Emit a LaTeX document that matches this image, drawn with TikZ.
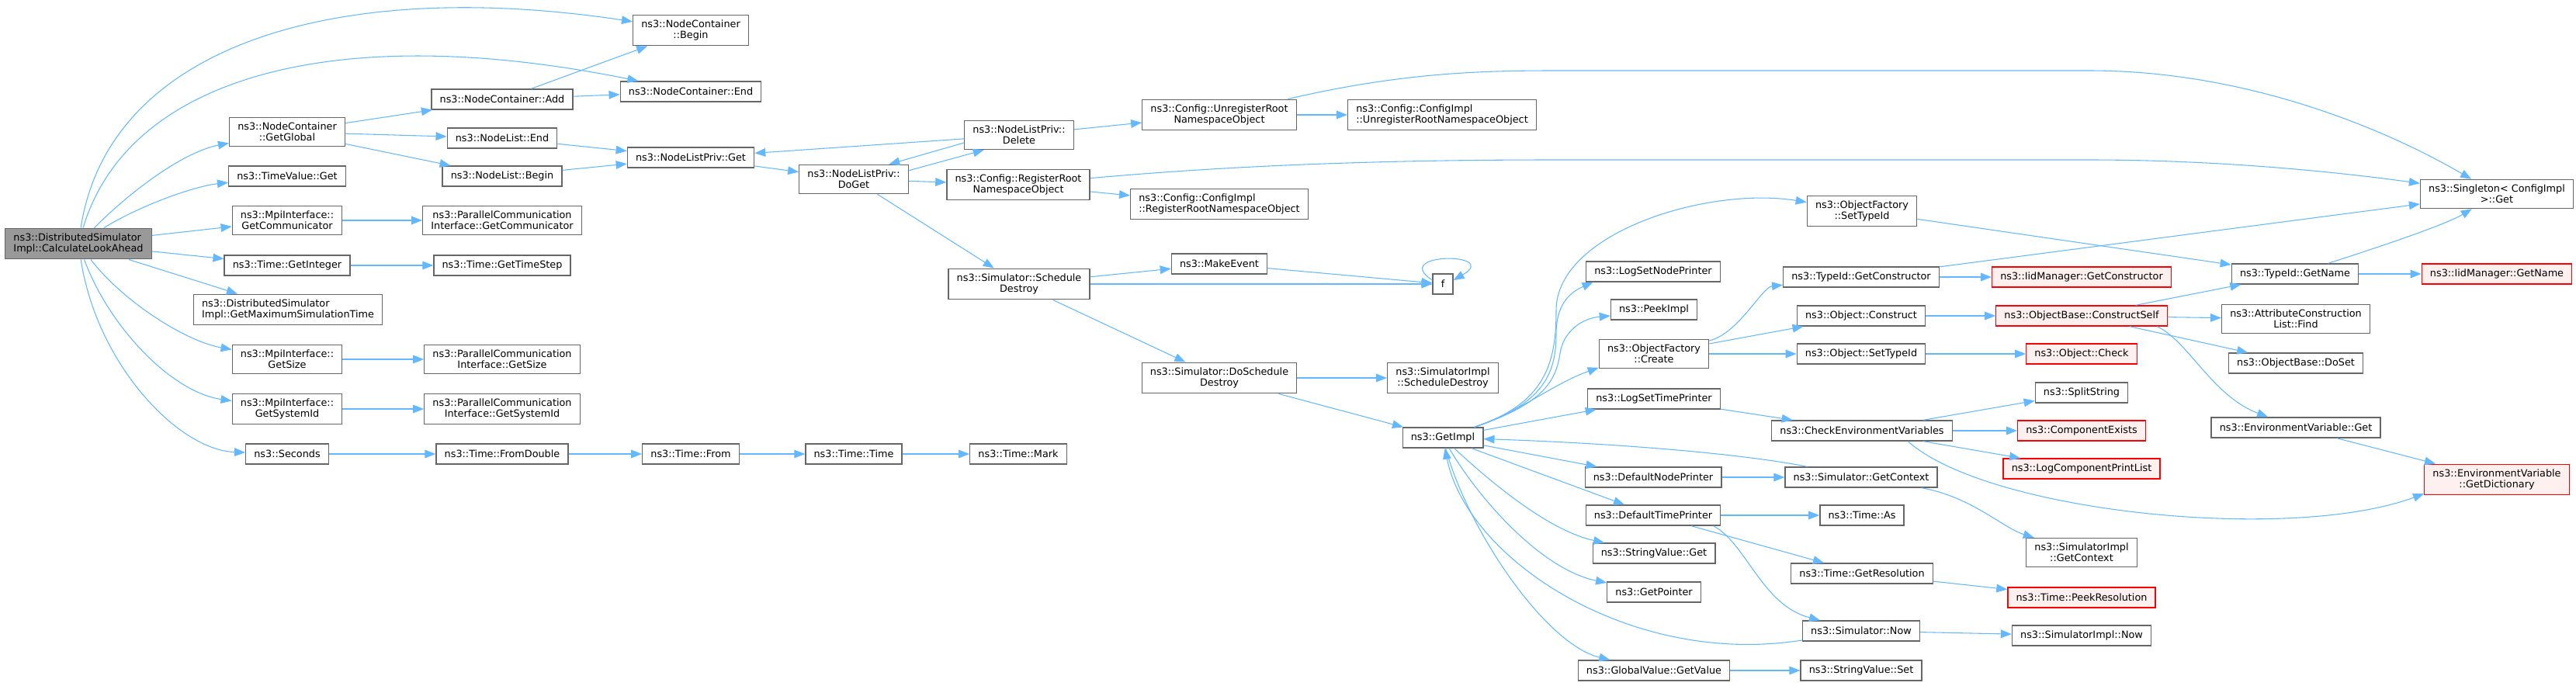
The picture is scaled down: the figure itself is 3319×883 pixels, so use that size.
\documentclass[tikz,border=0pt]{standalone}
\usepackage{fontspec}
\setmainfont{DejaVu Sans}
\usetikzlibrary{arrows.meta}
\definecolor{edgeblue}{HTML}{63B8FF}
\definecolor{boxgrey}{HTML}{666666}
\definecolor{rootfill}{HTML}{999999}
\definecolor{redfill}{HTML}{FFF0F0}
\begin{document}
\begin{tikzpicture}[x=0.75pt,y=-0.75pt,
        fn/.style={draw=boxgrey, line width=1pt, fill=white, inner xsep=8pt, inner ysep=4.8pt,
            minimum height=19.5pt, align=center, font=\fontsize{9.6}{10.8}\selectfont},
        fnleft/.style={fn, align=left},
        rootfn/.style={fn, fill=rootfill, align=left},
        redfn/.style={fn, draw=red, fill=redfill},
        call/.style={draw=edgeblue, line width=0.8pt, -{Triangle[length=10.5pt,width=8pt]}}]
        \useasboundingbox (0,0) rectangle (3319,883);
        % left part
        \path (101,314) node[rootfn] (calc) {ns3::DistributedSimulator\\Impl::CalculateLookAhead};
        \path (890,39) node[fn] (ncbegin) {ns3::NodeContainer\\::Begin};
        \path (890,118) node[fn] (ncend) {ns3::NodeContainer::End};
        \path (647,128) node[fn] (ncadd) {ns3::NodeContainer::Add};
        \path (370,170) node[fn] (getglobal) {ns3::NodeContainer\\::GetGlobal};
        \path (647,178) node[fn] (nlend) {ns3::NodeList::End};
        \path (647,227) node[fn] (nlbegin) {ns3::NodeList::Begin};
        \path (890,203) node[fn] (nlpget) {ns3::NodeListPriv::Get};
        \path (370,227) node[fn] (tvget) {ns3::TimeValue::Get};
        \path (370,284) node[fn] (mpicomm) {ns3::MpiInterface::\\GetCommunicator};
        \path (647,284) node[fn] (pcicomm) {ns3::ParallelCommunication\\Interface::GetCommunicator};
        \path (370,342) node[fn] (getinteger) {ns3::Time::GetInteger};
        \path (647,342) node[fn] (gettimestep) {ns3::Time::GetTimeStep};
        \path (371,399) node[fnleft] (getmaxtime) {ns3::DistributedSimulator\\Impl::GetMaximumSimulationTime};
        \path (370,463) node[fn] (mpisize) {ns3::MpiInterface::\\GetSize};
        \path (647,463) node[fn] (pcisize) {ns3::ParallelCommunication\\Interface::GetSize};
        \path (370,527) node[fn] (mpisysid) {ns3::MpiInterface::\\GetSystemId};
        \path (647,527) node[fn] (pcisysid) {ns3::ParallelCommunication\\Interface::GetSystemId};
        \path (370,585) node[fn] (seconds) {ns3::Seconds};
        \path (647,585) node[fn] (fromdouble) {ns3::Time::FromDouble};
        \path (890,585) node[fn] (timefrom) {ns3::Time::From};
        \path (1100,585) node[fn] (timetime) {ns3::Time::Time};
        \path (1312,585) node[fn] (timemark) {ns3::Time::Mark};
        % middle part
        \path (1313,174) node[fn] (nlpdelete) {ns3::NodeListPriv::\\Delete};
        \path (1100,231) node[fn] (nlpdoget) {ns3::NodeListPriv::\\DoGet};
        \path (1571,148) node[fn] (unregroot) {ns3::Config::UnregisterRoot\\NamespaceObject};
        \path (1858,148) node[fnleft] (cfgunreg) {ns3::Config::ConfigImpl\\::UnregisterRootNamespaceObject};
        \path (1312,238) node[fn] (regroot) {ns3::Config::RegisterRoot\\NamespaceObject};
        \path (1571,263) node[fnleft] (cfgreg) {ns3::Config::ConfigImpl\\::RegisterRootNamespaceObject};
        \path (1313,366) node[fn] (schedestroy) {ns3::Simulator::Schedule\\Destroy};
        \path (1571,340) node[fn] (makeevent) {ns3::MakeEvent};
        \path (1859,366) node[fn] (f) {f};
        \path (1571,487) node[fn] (doschedestroy) {ns3::Simulator::DoSchedule\\Destroy};
        \path (1859,487) node[fn] (implschedestroy) {ns3::SimulatorImpl\\::ScheduleDestroy};
        \path (1859,564) node[fn] (getimpl) {ns3::GetImpl};
        % right part
        \path (3217,250) node[fn] (singleton) {ns3::Singleton< ConfigImpl\\>::Get};
        \path (2399,272) node[fn] (ofsettypeid) {ns3::ObjectFactory\\::SetTypeId};
        \path (2130,350) node[fn] (logsetnode) {ns3::LogSetNodePrinter};
        \path (2131,399) node[fn] (peekimpl) {ns3::PeekImpl};
        \path (2398,357) node[fn] (tidgetctor) {ns3::TypeId::GetConstructor};
        \path (2682,357) node[redfn] (iidgetctor) {ns3::IidManager::GetConstructor};
        \path (2957,353) node[fn] (tidgetname) {ns3::TypeId::GetName};
        \path (3217,353) node[redfn] (iidgetname) {ns3::IidManager::GetName};
        \path (2398,407) node[fn] (objconstruct) {ns3::Object::Construct};
        \path (2682,407) node[redfn] (constructself) {ns3::ObjectBase::ConstructSelf};
        \path (2958,411) node[fn] (attrfind) {ns3::AttributeConstruction\\List::Find};
        \path (2131,456) node[fn] (ofcreate) {ns3::ObjectFactory\\::Create};
        \path (2398,456) node[fn] (objsettypeid) {ns3::Object::SetTypeId};
        \path (2682,456) node[redfn] (objcheck) {ns3::Object::Check};
        \path (2958,468) node[fn] (objdoset) {ns3::ObjectBase::DoSet};
        \path (2131,514) node[fn] (logsettime) {ns3::LogSetTimePrinter};
        \path (2682,506) node[fn] (splitstring) {ns3::SplitString};
        \path (2399,555) node[fn] (checkenv) {ns3::CheckEnvironmentVariables};
        \path (2682,555) node[redfn] (compexists) {ns3::ComponentExists};
        \path (2958,551) node[fn] (envget) {ns3::EnvironmentVariable::Get};
        \path (2682,604) node[redfn] (logcomplist) {ns3::LogComponentPrintList};
        \path (3217,618) node[redfn] (envdict) {ns3::EnvironmentVariable\\::GetDictionary};
        \path (2130,615) node[fn] (defnodeprinter) {ns3::DefaultNodePrinter};
        \path (2398,615) node[fn] (simgetctx) {ns3::Simulator::GetContext};
        \path (2130,664) node[fn] (deftimeprinter) {ns3::DefaultTimePrinter};
        \path (2399,664) node[fn] (timeas) {ns3::Time::As};
        \path (2682,712) node[fn] (implgetctx) {ns3::SimulatorImpl\\::GetContext};
        \path (2131,713) node[fn] (strvalget) {ns3::StringValue::Get};
        \path (2399,739) node[fn] (getres) {ns3::Time::GetResolution};
        \path (2682,770) node[redfn] (peekres) {ns3::Time::PeekResolution};
        \path (2131,763) node[fn] (getpointer) {ns3::GetPointer};
        \path (2398,813) node[fn] (simnow) {ns3::Simulator::Now};
        \path (2682,819) node[fn] (implnow) {ns3::SimulatorImpl::Now};
        \path (2131,864) node[fn] (gvgetvalue) {ns3::GlobalValue::GetValue};
        \path (2398,864) node[fn] (strvalset) {ns3::StringValue::Set};

        \draw[call] (calc) .. controls (140,60) and (430,-30) .. (ncbegin);
        \draw[call] (calc) .. controls (165,100) and (430,25) .. (ncend);
        \draw[call] (calc) .. controls (175,240) and (240,195) .. (getglobal);
        \draw[call] (calc) .. controls (180,265) and (250,240) .. (tvget);
        \draw[call] (calc) -- (mpicomm);
        \draw[call] (calc) -- (getinteger);
        \draw[call] (calc) -- (getmaxtime);
        \draw[call] (calc) .. controls (160,390) and (240,440) .. (mpisize);
        \draw[call] (calc) .. controls (140,420) and (220,505) .. (mpisysid);
        \draw[call] (calc) .. controls (125,470) and (230,580) .. (seconds);
        \draw[call] (getglobal) -- (ncadd);
        \draw[call] (getglobal) -- (nlend);
        \draw[call] (getglobal) -- (nlbegin);
        \draw[call] (ncadd) -- (ncbegin);
        \draw[call] (ncadd) -- (ncend);
        \draw[call] (nlend) -- (nlpget);
        \draw[call] (nlbegin) -- (nlpget);
        \draw[call] (nlpget) -- (nlpdoget);
        \draw[call] (nlpdelete) -- (nlpget);
        \draw[call] (nlpdoget.9) -- (nlpdelete.203);
        \draw[call] (nlpdelete.188) -- (nlpdoget.23);
        \draw[call] (nlpdoget) -- (regroot);
        \draw[call] (nlpdoget) -- (schedestroy);
        \draw[call] (nlpdelete) -- (unregroot);
        \draw[call] (unregroot) -- (cfgunreg);
        \draw[call] (unregroot) .. controls (1800,95) and (1900,91) .. (2000,91) -- (2692,91)
            .. controls (2900,91) and (3080,170) .. (singleton);
        \draw[call] (regroot) -- (cfgreg);
        \draw[call] (regroot) .. controls (1600,212) and (1800,206) .. (2000,206) -- (2692,206)
            .. controls (2850,206) and (3000,220) .. (singleton);
        \draw[call] (mpicomm) -- (pcicomm);
        \draw[call] (getinteger) -- (gettimestep);
        \draw[call] (mpisize) -- (pcisize);
        \draw[call] (mpisysid) -- (pcisysid);
        \draw[call] (seconds) -- (fromdouble);
        \draw[call] (fromdouble) -- (timefrom);
        \draw[call] (timefrom) -- (timetime);
        \draw[call] (timetime) -- (timemark);
        \draw[call] (schedestroy) -- (makeevent);
        \draw[call] (schedestroy) -- (f);
        \draw[call] (makeevent) -- (f);
        \draw[call] (f.160) .. controls (1790,325) and (1935,325) .. (f.20);
        \draw[call] (schedestroy) -- (doschedestroy);
        \draw[call] (doschedestroy) -- (implschedestroy);
        \draw[call] (doschedestroy) -- (getimpl);

        \draw[call] (getimpl) .. controls (1990,520) and (2005,470) .. (2005,400)
            .. controls (2005,300) and (2200,240) .. (ofsettypeid);
        \draw[call] (getimpl) .. controls (1990,520) and (2005,480) .. (2005,430)
            .. controls (2005,395) and (2020,378) .. (logsetnode.190);
        \draw[call] (getimpl) .. controls (1990,520) and (2005,490) .. (2010,455)
            .. controls (2015,425) and (2040,410) .. (peekimpl.188);
        \draw[call] (getimpl) .. controls (1960,530) and (2000,495) .. (ofcreate.194);
        \draw[call] (getimpl) -- (logsettime);
        \draw[call] (simgetctx) .. controls (2230,582) and (2050,570) .. (getimpl);
        \draw[call] (getimpl) -- (defnodeprinter);
        \draw[call] (getimpl) -- (deftimeprinter);
        \draw[call] (getimpl) .. controls (1930,630) and (2000,685) .. (strvalget);
        \draw[call] (getimpl) .. controls (1910,650) and (1990,735) .. (getpointer);
        \draw[call] (simnow) .. controls (2100,860) and (1890,720) .. (getimpl);
        \draw[call] (getimpl) .. controls (1890,680) and (1990,830) .. (gvgetvalue);

        \draw[call] (ofsettypeid) -- (tidgetname);
        \draw[call] (tidgetctor) -- (singleton);
        \draw[call] (tidgetctor) -- (iidgetctor);
        \draw[call] (tidgetname) .. controls (3060,320) and (3150,290) .. (singleton);
        \draw[call] (tidgetname) -- (iidgetname);
        \draw[call] (ofcreate) .. controls (2240,430) and (2270,370) .. (tidgetctor);
        \draw[call] (ofcreate) -- (objconstruct);
        \draw[call] (ofcreate) -- (objsettypeid);
        \draw[call] (objconstruct) -- (constructself);
        \draw[call] (constructself) -- (tidgetname);
        \draw[call] (constructself) -- (attrfind);
        \draw[call] (constructself) -- (objdoset);
        \draw[call] (constructself.-8) .. controls (2820,440) and (2850,510) .. (envget);
        \draw[call] (objsettypeid) -- (objcheck);
        \draw[call] (logsettime) -- (checkenv);
        \draw[call] (checkenv) -- (splitstring);
        \draw[call] (checkenv) -- (compexists);
        \draw[call] (checkenv) -- (logcomplist);
        \draw[call] (checkenv.-13) .. controls (2560,660) and (2950,700) .. (envdict.191);
        \draw[call] (envget) -- (envdict);
        \draw[call] (defnodeprinter) -- (simgetctx);
        \draw[call] (simgetctx) .. controls (2540,640) and (2580,680) .. (implgetctx);
        \draw[call] (deftimeprinter) -- (timeas);
        \draw[call] (deftimeprinter) -- (getres);
        \draw[call] (deftimeprinter.-10) .. controls (2250,700) and (2270,780) .. (simnow);
        \draw[call] (getres) -- (peekres);
        \draw[call] (simnow) -- (implnow);
        \draw[call] (gvgetvalue) -- (strvalset);
    \end{tikzpicture}
\end{document}
